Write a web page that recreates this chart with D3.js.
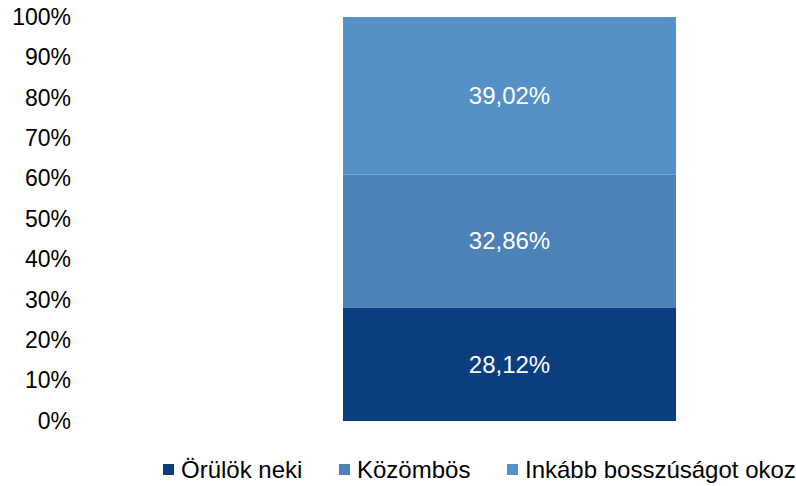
<!DOCTYPE html>
<html><head><meta charset="utf-8">
<script src="https://cdn.jsdelivr.net/npm/d3@7"></script>
<style>body{margin:0;background:#fff}svg{display:block}text{font-family:"Liberation Sans",Arial,sans-serif}</style>
</head><body>
<svg id="c" width="796" height="486"></svg>
<script>
const categories = ["összes"];
const seriesNames = ["Örülök neki", "Közömbös", "Inkább bosszúságot okoz"];
const seriesValues = [28.12, 32.86, 39.02];
const valueLabels = ["28,12%", "32,86%", "39,02%"];
const seriesColors = ["#0b3e7f", "#4c82b5", "#5590c6"];
const tickValues = [0,10,20,30,40,50,60,70,80,90,100];

const svg = d3.select("#c");
const y = d3.scaleLinear().domain([0,100]).range([421,17]);
const x = d3.scaleBand().domain(categories).range([343,676]).padding(0);

const yAxis = d3.axisLeft(y).tickValues(tickValues).tickFormat(d => d + "%").tickSize(0).tickPadding(0);
const ga = svg.append("g").attr("transform","translate(71,0)").call(yAxis);
ga.select(".domain").remove();
ga.selectAll("text").attr("font-size", 23).attr("fill","#000").style("font-family","Liberation Sans, Arial, sans-serif");

let cum = 0;
const stacks = seriesValues.map((v,i) => { const s = {i, cat: categories[0], y0: cum, y1: cum + v}; cum += v; return s; });
svg.selectAll("rect.seg").data(stacks).join("rect")
  .attr("x", d => x(d.cat)).attr("width", x.bandwidth())
  .attr("y", d => y(d.y1)).attr("height", d => y(d.y0) - y(d.y1))
  .attr("fill", d => seriesColors[d.i]);
svg.selectAll("text.lbl").data(stacks).join("text")
  .attr("x", d => x(d.cat) + x.bandwidth()/2).attr("y", d => y((d.y0+d.y1)/2))
  .attr("dy","0.35em").attr("text-anchor","middle")
  .attr("font-size", 24).attr("fill","#fff")
  .text(d => valueLabels[d.i]);

const legendX = [163, 339, 507];
const lg = svg.append("g");
seriesNames.forEach((n,i) => {
  lg.append("rect").attr("x", legendX[i]).attr("y", 464).attr("width", 11).attr("height", 11).attr("fill", seriesColors[i]);
  lg.append("text").attr("x", legendX[i] + 18).attr("y", 470).attr("dy","0.35em").attr("font-size", 24).attr("fill","#000").text(n);
});
</script>
</body></html>
